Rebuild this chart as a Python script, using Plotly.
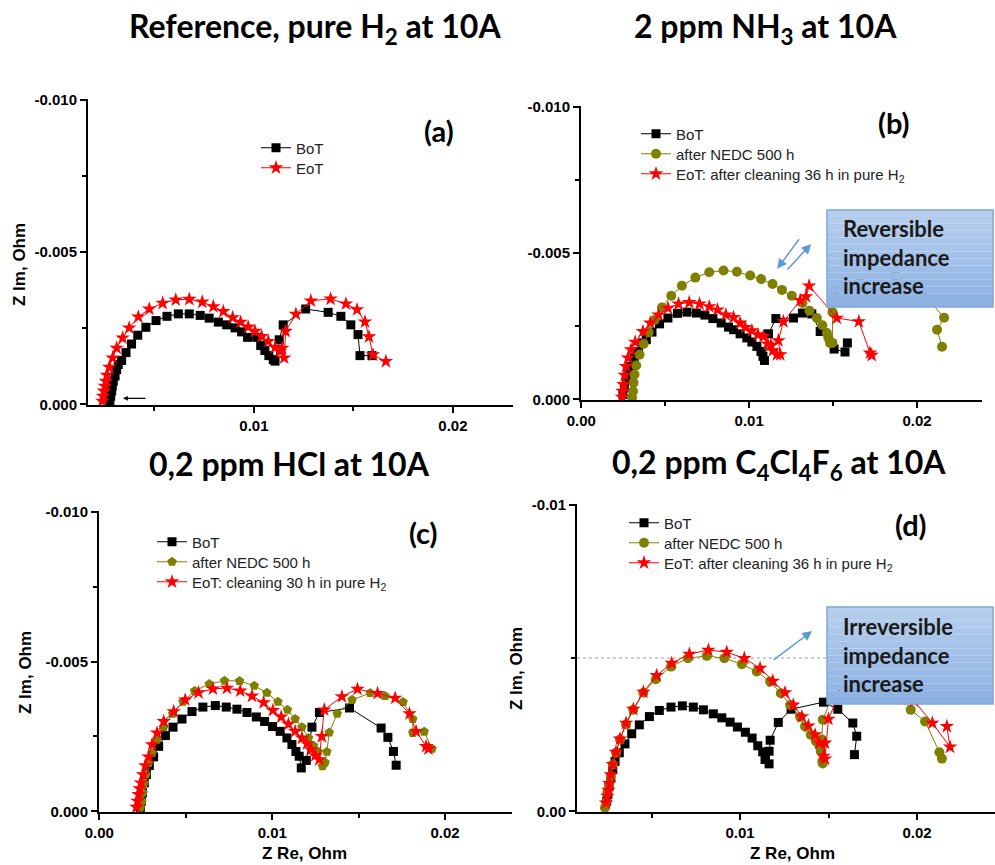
import plotly.graph_objects as go

# ---------------- data ----------------
# (a) Reference, pure H2
a_bot_x = [0.00276, 0.00280, 0.00285, 0.00288, 0.00293, 0.00302, 0.00310, 0.00318, 0.00335, 0.00357, 0.00385, 0.00416, 0.00457, 0.00508, 0.00563, 0.00620, 0.00675, 0.00730, 0.00775, 0.00821, 0.00863, 0.00905, 0.00938, 0.00968, 0.01014, 0.01034, 0.01055, 0.01075, 0.01097, 0.01106, 0.01127, 0.01147, 0.01260, 0.01373, 0.01437, 0.01487, 0.01523, 0.01533, 0.01593]
a_bot_y = [-0.00011, -0.00027, -0.00044, -0.00060, -0.00076, -0.00093, -0.00114, -0.00131, -0.00144, -0.00170, -0.00198, -0.00227, -0.00253, -0.00275, -0.00289, -0.00297, -0.00297, -0.00292, -0.00283, -0.00270, -0.00261, -0.00251, -0.00238, -0.00220, -0.00220, -0.00193, -0.00177, -0.00160, -0.00147, -0.00142, -0.00212, -0.00261, -0.00313, -0.00302, -0.00289, -0.00261, -0.00229, -0.00160, -0.00160]
a_eot_x = [0.00238, 0.00241, 0.00246, 0.00251, 0.00256, 0.00261, 0.00273, 0.00290, 0.00310, 0.00340, 0.00373, 0.00419, 0.00474, 0.00541, 0.00607, 0.00675, 0.00740, 0.00796, 0.00846, 0.00893, 0.00933, 0.00971, 0.01005, 0.01039, 0.01072, 0.01106, 0.01131, 0.01142, 0.01152, 0.01159, 0.01211, 0.01286, 0.01385, 0.01462, 0.01518, 0.01558, 0.01578, 0.01598, 0.01663]
a_eot_y = [-0.00011, -0.00027, -0.00044, -0.00060, -0.00076, -0.00096, -0.00122, -0.00153, -0.00185, -0.00218, -0.00251, -0.00287, -0.00313, -0.00332, -0.00343, -0.00345, -0.00336, -0.00321, -0.00305, -0.00285, -0.00270, -0.00254, -0.00240, -0.00223, -0.00207, -0.00187, -0.00174, -0.00185, -0.00153, -0.00240, -0.00296, -0.00340, -0.00346, -0.00330, -0.00311, -0.00271, -0.00222, -0.00163, -0.00141]

# (b) 2 ppm NH3
b_bot_x = [0.00248, 0.00256, 0.00268, 0.00282, 0.00296, 0.00316, 0.00341, 0.00365, 0.00387, 0.00421, 0.00466, 0.00516, 0.00573, 0.00629, 0.00685, 0.00736, 0.00784, 0.00833, 0.00877, 0.00907, 0.00946, 0.00986, 0.01016, 0.01046, 0.01070, 0.01082, 0.01091, 0.01115, 0.01159, 0.01264, 0.01317, 0.01373, 0.01423, 0.01506, 0.01571, 0.01585]
b_bot_y = [-0.00017, -0.00040, -0.00065, -0.00091, -0.00113, -0.00142, -0.00164, -0.00193, -0.00204, -0.00230, -0.00258, -0.00278, -0.00294, -0.00298, -0.00295, -0.00288, -0.00276, -0.00261, -0.00247, -0.00238, -0.00224, -0.00210, -0.00196, -0.00181, -0.00164, -0.00147, -0.00133, -0.00224, -0.00276, -0.00278, -0.00295, -0.00292, -0.00232, -0.00172, -0.00162, -0.00193]
b_nedc_x = [0.00302, 0.00308, 0.00311, 0.00317, 0.00327, 0.00347, 0.00371, 0.00401, 0.00436, 0.00480, 0.00536, 0.00599, 0.00679, 0.00762, 0.00847, 0.00927, 0.01006, 0.01071, 0.01139, 0.01195, 0.01254, 0.01317, 0.01359, 0.01403, 0.01436, 0.01463, 0.01472, 0.01482, 0.01496, 0.01496, 0.01512, 0.01661, 0.01869, 0.02030, 0.02161, 0.02119, 0.02149]
b_nedc_y = [-0.00006, -0.00028, -0.00057, -0.00085, -0.00116, -0.00153, -0.00190, -0.00229, -0.00271, -0.00314, -0.00354, -0.00388, -0.00416, -0.00434, -0.00440, -0.00436, -0.00423, -0.00411, -0.00394, -0.00374, -0.00354, -0.00329, -0.00303, -0.00278, -0.00253, -0.00227, -0.00210, -0.00193, -0.00193, -0.00298, -0.00374, -0.00415, -0.00422, -0.00367, -0.00279, -0.00238, -0.00180]
b_eot_x = [0.00242, 0.00246, 0.00252, 0.00258, 0.00266, 0.00278, 0.00296, 0.00321, 0.00367, 0.00411, 0.00460, 0.00516, 0.00579, 0.00643, 0.00704, 0.00762, 0.00811, 0.00861, 0.00907, 0.00946, 0.00976, 0.01016, 0.01052, 0.01085, 0.01109, 0.01129, 0.01141, 0.01165, 0.01185, 0.01174, 0.01204, 0.01304, 0.01339, 0.01357, 0.01522, 0.01653, 0.01720, 0.01730]
b_eot_y = [-0.00008, -0.00028, -0.00051, -0.00083, -0.00113, -0.00142, -0.00170, -0.00196, -0.00232, -0.00261, -0.00289, -0.00312, -0.00326, -0.00331, -0.00326, -0.00317, -0.00306, -0.00289, -0.00280, -0.00261, -0.00246, -0.00235, -0.00221, -0.00215, -0.00190, -0.00185, -0.00167, -0.00153, -0.00153, -0.00201, -0.00266, -0.00338, -0.00351, -0.00388, -0.00278, -0.00266, -0.00159, -0.00151]

# (c) 0,2 ppm HCl
c_bot_x = [0.00237, 0.00243, 0.00250, 0.00260, 0.00272, 0.00289, 0.00314, 0.00343, 0.00382, 0.00426, 0.00478, 0.00536, 0.00599, 0.00671, 0.00734, 0.00796, 0.00854, 0.00908, 0.00956, 0.01002, 0.01046, 0.01085, 0.01114, 0.01137, 0.01156, 0.01168, 0.01197, 0.01230, 0.01273, 0.01447, 0.01630, 0.01669, 0.01701, 0.01717]
c_bot_y = [-0.00012, -0.00034, -0.00062, -0.00095, -0.00123, -0.00153, -0.00182, -0.00217, -0.00253, -0.00281, -0.00308, -0.00333, -0.00348, -0.00353, -0.00348, -0.00341, -0.00330, -0.00315, -0.00300, -0.00283, -0.00267, -0.00245, -0.00223, -0.00200, -0.00184, -0.00145, -0.00170, -0.00281, -0.00330, -0.00345, -0.00278, -0.00247, -0.00200, -0.00154]
c_nedc_x = [0.00237, 0.00247, 0.00253, 0.00260, 0.00270, 0.00285, 0.00305, 0.00334, 0.00372, 0.00424, 0.00484, 0.00551, 0.00636, 0.00724, 0.00811, 0.00896, 0.00969, 0.01033, 0.01088, 0.01133, 0.01172, 0.01210, 0.01239, 0.01266, 0.01291, 0.01306, 0.01316, 0.01330, 0.01376, 0.01462, 0.01567, 0.01653, 0.01757, 0.01813, 0.01813, 0.01879, 0.01925]
c_nedc_y = [-0.00012, -0.00034, -0.00062, -0.00095, -0.00123, -0.00162, -0.00195, -0.00239, -0.00281, -0.00326, -0.00366, -0.00402, -0.00425, -0.00436, -0.00435, -0.00419, -0.00396, -0.00366, -0.00339, -0.00308, -0.00281, -0.00245, -0.00219, -0.00199, -0.00151, -0.00163, -0.00199, -0.00263, -0.00326, -0.00372, -0.00395, -0.00385, -0.00365, -0.00308, -0.00262, -0.00266, -0.00209]
c_eot_x = [0.00214, 0.00221, 0.00227, 0.00233, 0.00241, 0.00253, 0.00266, 0.00285, 0.00305, 0.00334, 0.00372, 0.00430, 0.00497, 0.00574, 0.00657, 0.00738, 0.00815, 0.00883, 0.00950, 0.01004, 0.01052, 0.01094, 0.01133, 0.01172, 0.01201, 0.01224, 0.01249, 0.01272, 0.01287, 0.01301, 0.01403, 0.01493, 0.01609, 0.01711, 0.01794, 0.01832, 0.01890, 0.01904]
c_eot_y = [-0.00014, -0.00034, -0.00057, -0.00076, -0.00095, -0.00123, -0.00153, -0.00182, -0.00223, -0.00262, -0.00300, -0.00333, -0.00372, -0.00396, -0.00409, -0.00411, -0.00402, -0.00385, -0.00363, -0.00337, -0.00315, -0.00291, -0.00267, -0.00245, -0.00226, -0.00206, -0.00186, -0.00173, -0.00250, -0.00339, -0.00383, -0.00408, -0.00394, -0.00378, -0.00326, -0.00267, -0.00217, -0.00209]

# (d) 0,2 ppm C4Cl4F6
d_bot_x = [0.00247, 0.00253, 0.00260, 0.00270, 0.00281, 0.00294, 0.00318, 0.00350, 0.00388, 0.00431, 0.00488, 0.00544, 0.00610, 0.00674, 0.00736, 0.00793, 0.00849, 0.00897, 0.00944, 0.00985, 0.01030, 0.01068, 0.01100, 0.01128, 0.01164, 0.01141, 0.01164, 0.01170, 0.01216, 0.01288, 0.01471, 0.01552, 0.01637, 0.01659, 0.01646]
d_bot_y = [-0.00033, -0.00055, -0.00082, -0.00109, -0.00136, -0.00163, -0.00191, -0.00220, -0.00253, -0.00282, -0.00309, -0.00329, -0.00340, -0.00344, -0.00340, -0.00331, -0.00318, -0.00305, -0.00291, -0.00275, -0.00258, -0.00239, -0.00214, -0.00194, -0.00196, -0.00169, -0.00155, -0.00232, -0.00290, -0.00333, -0.00356, -0.00333, -0.00288, -0.00245, -0.00185]
d_nedc_x = [0.00237, 0.00243, 0.00250, 0.00260, 0.00270, 0.00281, 0.00299, 0.00322, 0.00356, 0.00397, 0.00454, 0.00524, 0.00610, 0.00705, 0.00812, 0.00911, 0.01010, 0.01094, 0.01170, 0.01230, 0.01283, 0.01339, 0.01367, 0.01399, 0.01429, 0.01448, 0.01456, 0.01465, 0.01467, 0.01462, 0.01467, 0.01520, 0.01650, 0.01819, 0.01932, 0.01964, 0.02045, 0.02126, 0.02140]
d_nedc_y = [-0.00012, -0.00030, -0.00061, -0.00088, -0.00115, -0.00153, -0.00191, -0.00234, -0.00283, -0.00331, -0.00387, -0.00431, -0.00472, -0.00499, -0.00507, -0.00499, -0.00480, -0.00456, -0.00423, -0.00385, -0.00347, -0.00308, -0.00277, -0.00250, -0.00228, -0.00214, -0.00196, -0.00163, -0.00156, -0.00234, -0.00299, -0.00373, -0.00403, -0.00396, -0.00364, -0.00331, -0.00293, -0.00193, -0.00172]
d_eot_x = [0.00243, 0.00250, 0.00256, 0.00262, 0.00270, 0.00281, 0.00299, 0.00322, 0.00356, 0.00397, 0.00454, 0.00529, 0.00614, 0.00714, 0.00821, 0.00925, 0.01024, 0.01113, 0.01185, 0.01254, 0.01301, 0.01349, 0.01386, 0.01424, 0.01448, 0.01480, 0.01471, 0.01480, 0.01499, 0.01559, 0.01684, 0.01853, 0.01983, 0.02086, 0.02186, 0.02168]
d_eot_y = [-0.00028, -0.00050, -0.00069, -0.00091, -0.00120, -0.00153, -0.00193, -0.00236, -0.00288, -0.00333, -0.00389, -0.00443, -0.00483, -0.00513, -0.00526, -0.00519, -0.00499, -0.00467, -0.00425, -0.00387, -0.00347, -0.00309, -0.00279, -0.00250, -0.00223, -0.00223, -0.00180, -0.00171, -0.00301, -0.00380, -0.00403, -0.00390, -0.00360, -0.00288, -0.00210, -0.00277]

panel_titles = ["Reference, pure H<sub>2</sub> at 10A", "2 ppm NH<sub>3</sub> at 10A",
                "0,2 ppm HCl at 10A", "0,2 ppm C<sub>4</sub>Cl<sub>4</sub>F<sub>6</sub> at 10A"]
panel_labels = ["(a)", "(b)", "(c)", "(d)"]
name_bot = "BoT"
name_nedc = "after NEDC 500 h"
name_eot_a = "EoT"
name_eot_b = "EoT: after cleaning 36 h in pure H<sub>2</sub>"
name_eot_c = "EoT: cleaning 30 h in pure H<sub>2</sub>"
name_eot_d = "EoT: after cleaning 36 h in pure H<sub>2</sub>"
box_text_b = "Reversible<br>impedance<br>increase"
box_text_d = "Irreversible<br>impedance<br>increase"
y_ticks3 = [-0.010, -0.005, 0.0]
y_ticktext3 = ["-0.010", "-0.005", "0.000"]
y_ticks_d = [-0.01, 0.0]
y_ticktext_d = ["-0.01", "0.00"]

# ---------------- figure ----------------
W, H = 995, 865
def px(x):
    return x / W
def py(y):
    return 1 - y / H

BLACK = "#000000"
OLIVE = "#808000"
RED = "#ff0000"
AX_FONT = dict(family="Liberation Sans, Arial", size=15, color="black", weight="bold")
AXT_FONT = dict(family="Liberation Sans, Arial", size=17, color="black", weight="bold")
LEG_FONT = dict(family="Liberation Sans, Arial", size=15, color="#222222")
TITLE_FONT = dict(family="Lato", size=32, color="black", weight="bold")

fig = go.Figure()

# legend entries: each one its own legend, placed at (text left x, centre y) in pixels
leg_pos = {}
counter = [0]
def add_series(xs, ys, name, color, symbol, size, xa, ya, lx, ly):
    counter[0] += 1
    key = "legend" if counter[0] == 1 else "legend%d" % counter[0]
    leg_pos[key] = (lx, ly)
    fig.add_trace(go.Scatter(
        x=xs, y=ys, name=name, mode="lines+markers",
        line=dict(color=color, width=1),
        marker=dict(color=color, symbol=symbol, size=size, line=dict(width=0)),
        xaxis=xa, yaxis=ya, legend=key))

add_series(a_bot_x, a_bot_y, name_bot, BLACK, "square", 9, "x", "y", 298, 148)
add_series(a_eot_x, a_eot_y, name_eot_a, RED, "star", 11, "x", "y", 298, 168)

add_series(b_bot_x, b_bot_y, name_bot, BLACK, "square", 9, "x2", "y2", 678, 134)
add_series(b_nedc_x, b_nedc_y, name_nedc, OLIVE, "circle", 10, "x2", "y2", 678, 154)
add_series(b_eot_x, b_eot_y, name_eot_b, RED, "star", 11, "x2", "y2", 678, 174)

add_series(c_bot_x, c_bot_y, name_bot, BLACK, "square", 9, "x3", "y3", 194, 542)
add_series(c_nedc_x, c_nedc_y, name_nedc, OLIVE, "pentagon", 10, "x3", "y3", 194, 562)
add_series(c_eot_x, c_eot_y, name_eot_c, RED, "star", 11, "x3", "y3", 194, 582)

add_series(d_bot_x, d_bot_y, name_bot, BLACK, "square", 9, "x4", "y4", 666, 523)
add_series(d_nedc_x, d_nedc_y, name_nedc, OLIVE, "circle", 10, "x4", "y4", 666, 543)
add_series(d_eot_x, d_eot_y, name_eot_d, RED, "star", 11, "x4", "y4", 666, 563)

def axis(domain, rng, anchor, tickvals, ticktext, minor_vals):
    return dict(domain=domain, range=rng, anchor=anchor, showline=True, linecolor="black",
                linewidth=2, ticks="outside", ticklen=6, tickwidth=2, tickcolor="black",
                tickmode="array", tickvals=tickvals, ticktext=ticktext, tickfont=AX_FONT,
                showgrid=False, zeroline=False, fixedrange=True, automargin=False,
                minor=dict(tickmode="array", tickvals=minor_vals, ticks="outside", ticklen=4,
                           tickwidth=2, tickcolor="black", showgrid=False))

# pixel geometry of each panel (left, right, top, bottom)
geo = {
    "a": (88, 513, 99, 405),
    "b": (581, 982, 106, 400),
    "c": (99, 512, 511, 812),
    "d": (577, 995, 504, 812),
}
def dom_x(k):
    l, r, t, b = geo[k]
    return [px(l), min(px(r), 1.0)]
def dom_y(k):
    l, r, t, b = geo[k]
    return [py(b), py(t)]

xm = [0.005, 0.015]
ym = [-0.0075, -0.0025]
fig.update_layout(
    xaxis=axis(dom_x("a"), [0.00166, 0.02302], "y", [0.01, 0.02], ["0.01", "0.02"], xm),
    yaxis=axis(dom_y("a"), [0.00002, -0.01002], "x", y_ticks3, y_ticktext3, ym),
    xaxis2=axis(dom_x("b"), [-0.00002, 0.02387], "y2", [0.0, 0.01, 0.02], ["0.00", "0.01", "0.02"], xm),
    yaxis2=axis(dom_y("b"), [0.00002, -0.01002], "x2", y_ticks3, y_ticktext3, ym),
    xaxis3=axis(dom_x("c"), [-0.00002, 0.02387], "y3", [0.0, 0.01, 0.02], ["0.00", "0.01", "0.02"], xm),
    yaxis3=axis(dom_y("c"), [0.00002, -0.01002], "x3", y_ticks3, y_ticktext3, ym),
    xaxis4=axis(dom_x("d"), [0.00079, 0.0244], "y4", [0.01, 0.02], ["0.01", "0.02"], xm),
    yaxis4=axis(dom_y("d"), [0.00002, -0.01002], "x4", y_ticks_d, y_ticktext_d, [-0.005]),
)

legends = {}
for key, (lx, ly) in leg_pos.items():
    legends[key] = dict(x=px(lx - 42), y=py(ly), xanchor="left", yanchor="middle", font=LEG_FONT,
                        bgcolor="rgba(0,0,0,0)", borderwidth=0, itemwidth=30)

fig.update_layout(
    width=W, height=H, autosize=False,
    margin=dict(l=0, r=0, t=0, b=0, pad=0, autoexpand=False),
    paper_bgcolor="white", plot_bgcolor="white",
    showlegend=True,
    **legends,
)

# dotted reference line in (d)
fig.add_shape(type="line", xref="x4", yref="y4", x0=0.00079, x1=0.0150, y0=-0.005, y1=-0.005,
              line=dict(color="#a0a0a0", width=1, dash="dot"), layer="below")

# gradient boxes
def grad_box(x0, x1, y0, y1, n=14):
    top = (183, 206, 237)
    bot = (140, 177, 226)
    for i in range(n):
        f = i / (n - 1)
        c = tuple(int(round(top[j] + (bot[j] - top[j]) * f)) for j in range(3))
        ya = y0 + (y1 - y0) * i / n
        yb = y0 + (y1 - y0) * (i + 1) / n
        fig.add_shape(type="rect", xref="paper", yref="paper", x0=px(x0), x1=px(x1),
                      y0=py(yb), y1=py(ya), line=dict(width=0),
                      fillcolor="rgb(%d,%d,%d)" % c, layer="above")
    fig.add_shape(type="rect", xref="paper", yref="paper", x0=px(x0), x1=px(x1),
                  y0=py(y1), y1=py(y0), line=dict(color="#7ea6d8", width=1.5),
                  fillcolor="rgba(0,0,0,0)", layer="above")

grad_box(827, 993, 210, 307)
grad_box(827, 993, 607, 704)

ann = []
# panel titles
for txt, (xc, yc) in zip(panel_titles, [(315, 28), (765, 28), (289, 464), (779, 464)]):
    ann.append(dict(text=txt, x=px(xc), y=py(yc), xref="paper", yref="paper",
                    xanchor="center", yanchor="middle", showarrow=False, font=TITLE_FONT))
# panel labels
for txt, (xc, yc) in zip(panel_labels, [(439, 130), (894, 123), (423, 532), (911, 524)]):
    ann.append(dict(text=txt, x=px(xc), y=py(yc), xref="paper", yref="paper",
                    xanchor="center", yanchor="middle", showarrow=False,
                    font=dict(family="Lato", size=29, color="black", weight="bold")))
# axis titles
for (xc, yc) in [(19, 265), (25, 673), (516, 669)]:
    ann.append(dict(text="Z Im, Ohm", x=px(xc), y=py(yc), xref="paper", yref="paper",
                    xanchor="center", yanchor="middle", showarrow=False, textangle=-90,
                    font=AXT_FONT))
for (xc, yc) in [(304, 853), (792, 853)]:
    ann.append(dict(text="Z Re, Ohm", x=px(xc), y=py(yc), xref="paper", yref="paper",
                    xanchor="center", yanchor="middle", showarrow=False, font=AXT_FONT))
# box texts
for txt, yc in [(box_text_b, 257), (box_text_d, 655)]:
    ann.append(dict(text=txt, x=px(841), y=py(yc), xref="paper", yref="paper",
                    xanchor="left", yanchor="middle", align="left", showarrow=False,
                    font=dict(family="Lato", size=22, color="#1a1a1a", weight="bold")))
# arrows
BLUE = "#5b9bd5"
ann.append(dict(text="", x=0.01167, y=-0.00446, xref="x2", yref="y2", ax=23, ay=-31,
                showarrow=True, arrowhead=2, arrowsize=1.3, arrowwidth=1.5, arrowcolor=BLUE))
ann.append(dict(text="", x=0.01369, y=-0.00531, xref="x2", yref="y2", ax=-25, ay=27,
                showarrow=True, arrowhead=2, arrowsize=1.3, arrowwidth=1.5, arrowcolor=BLUE))
ann.append(dict(text="", x=0.01407, y=-0.00588, xref="x4", yref="y4", ax=-40, ay=30,
                showarrow=True, arrowhead=2, arrowsize=1.3, arrowwidth=1.5, arrowcolor=BLUE))
ann.append(dict(text="", x=0.00342, y=-0.0002, xref="x", yref="y", ax=24, ay=0,
                showarrow=True, arrowhead=2, arrowsize=0.8, arrowwidth=1.2, arrowcolor="black"))
fig.update_layout(annotations=ann)

fig.write_html("out.html", config={"displayModeBar": False})
